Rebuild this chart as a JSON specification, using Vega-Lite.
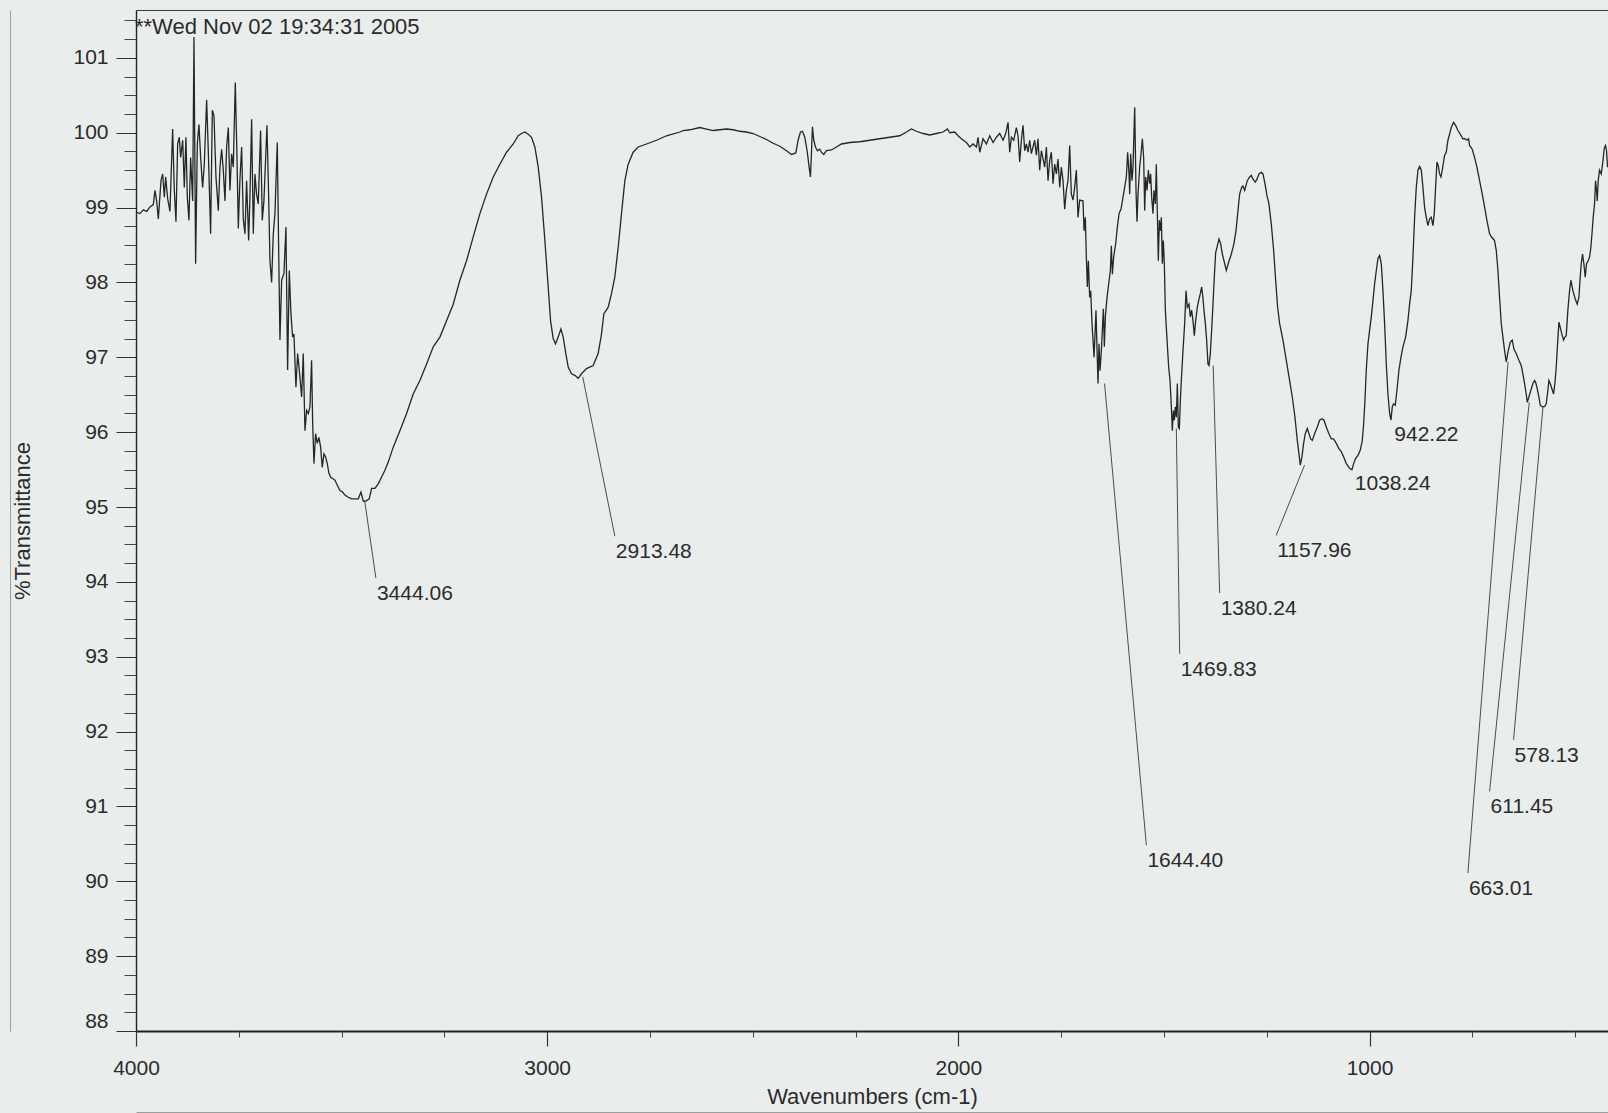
{
  "$schema": "https://vega.github.io/schema/vega-lite/v6.json",
  "width": 1472,
  "height": 1021,
  "autosize": {"type": "none"},
  "padding": {"left": 136, "top": 10, "right": 0, "bottom": 82},
  "background": "#e9eeed",
  "config": {"view": {"stroke": null}, "font": "Liberation Sans", "axis": {"grid": false}},
  "title": {"text": "**Wed Nov 02 19:34:31 2005", "anchor": "start", "frame": "group", "orient": "top", "offset": -22, "baseline": "alphabetic", "fontSize": 22, "fontWeight": "normal", "font": "Liberation Sans", "color": "#2b2b2b", "dx": -1, "dy": 24},
  "datasets": {
    "spec": [
      {"wn":4000.0,"t":98.94},{"wn":3990.3,"t":98.92},{"wn":3982.2,"t":98.97},{"wn":3974.1,"t":98.95},{"wn":3966.0,"t":99.01},{"wn":3957.9,"t":99.04},{"wn":3953.8,"t":99.23},{"wn":3949.8,"t":99.09},{"wn":3945.7,"t":98.85},{"wn":3939.2,"t":99.36},{"wn":3935.2,"t":99.45},{"wn":3931.1,"t":99.14},{"wn":3927.9,"t":99.41},{"wn":3923.0,"t":99.12},{"wn":3917.4,"t":98.95},{"wn":3910.9,"t":100.05},{"wn":3906.8,"t":99.23},{"wn":3902.8,"t":98.81},{"wn":3898.7,"t":99.85},{"wn":3894.7,"t":99.94},{"wn":3891.4,"t":99.67},{"wn":3886.5,"t":99.90},{"wn":3882.5,"t":99.27},{"wn":3878.5,"t":99.94},{"wn":3875.2,"t":99.14},{"wn":3871.2,"t":98.83},{"wn":3867.1,"t":99.67},{"wn":3862.2,"t":99.09},{"wn":3859.0,"t":101.28},{"wn":3855.0,"t":98.25},{"wn":3850.9,"t":99.85},{"wn":3846.9,"t":100.11},{"wn":3842.8,"t":99.67},{"wn":3838.0,"t":99.27},{"wn":3833.9,"t":99.58},{"wn":3828.2,"t":100.44},{"wn":3824.2,"t":99.76},{"wn":3818.5,"t":98.65},{"wn":3814.4,"t":100.30},{"wn":3810.4,"t":100.23},{"wn":3805.5,"t":99.41},{"wn":3799.8,"t":98.96},{"wn":3795.8,"t":99.54},{"wn":3791.7,"t":99.78},{"wn":3787.7,"t":99.50},{"wn":3783.6,"t":99.09},{"wn":3779.6,"t":99.81},{"wn":3775.5,"t":100.07},{"wn":3771.5,"t":99.23},{"wn":3767.4,"t":99.72},{"wn":3763.4,"t":99.54},{"wn":3758.5,"t":100.67},{"wn":3754.4,"t":99.67},{"wn":3751.2,"t":98.72},{"wn":3747.2,"t":99.38},{"wn":3743.1,"t":99.81},{"wn":3739.1,"t":98.85},{"wn":3735.0,"t":98.65},{"wn":3731.0,"t":99.36},{"wn":3726.1,"t":98.56},{"wn":3722.9,"t":99.14},{"wn":3718.8,"t":100.18},{"wn":3714.7,"t":98.65},{"wn":3710.7,"t":99.45},{"wn":3706.7,"t":99.18},{"wn":3702.6,"t":99.05},{"wn":3697.0,"t":100.03},{"wn":3692.9,"t":98.83},{"wn":3688.9,"t":99.09},{"wn":3684.8,"t":99.65},{"wn":3681.5,"t":100.10},{"wn":3677.5,"t":99.18},{"wn":3674.2,"t":98.29},{"wn":3670.2,"t":98.00},{"wn":3666.1,"t":98.65},{"wn":3662.1,"t":98.92},{"wn":3656.4,"t":99.87},{"wn":3653.1,"t":98.47},{"wn":3649.9,"t":97.23},{"wn":3645.8,"t":98.03},{"wn":3640.2,"t":98.12},{"wn":3635.3,"t":98.74},{"wn":3631.3,"t":96.83},
      {"wn":3627.2,"t":98.16},{"wn":3623.1,"t":97.58},{"wn":3619.1,"t":97.27},{"wn":3615.9,"t":97.31},{"wn":3611.0,"t":96.60},{"wn":3606.9,"t":97.05},{"wn":3602.9,"t":96.83},{"wn":3597.2,"t":96.47},{"wn":3593.2,"t":97.05},{"wn":3589.1,"t":96.02},{"wn":3585.0,"t":96.29},{"wn":3581.0,"t":96.25},{"wn":3576.9,"t":96.34},{"wn":3572.9,"t":96.96},{"wn":3570.5,"t":96.16},{"wn":3567.2,"t":95.58},{"wn":3563.2,"t":95.98},{"wn":3559.1,"t":95.85},{"wn":3555.1,"t":95.93},{"wn":3551.0,"t":95.80},{"wn":3547.0,"t":95.53},{"wn":3542.9,"t":95.71},{"wn":3538.9,"t":95.67},{"wn":3534.8,"t":95.58},{"wn":3530.8,"t":95.45},{"wn":3526.7,"t":95.40},{"wn":3521.9,"t":95.38},{"wn":3516.2,"t":95.36},{"wn":3510.5,"t":95.29},{"wn":3504.0,"t":95.22},{"wn":3497.5,"t":95.20},{"wn":3491.9,"t":95.16},{"wn":3483.8,"t":95.13},{"wn":3475.7,"t":95.11},{"wn":3467.5,"t":95.11},{"wn":3459.4,"t":95.11},{"wn":3453.0,"t":95.20},{"wn":3447.3,"t":95.08},{"wn":3440.8,"t":95.08},{"wn":3432.7,"t":95.11},{"wn":3427.0,"t":95.25},{"wn":3418.9,"t":95.25},{"wn":3410.8,"t":95.31},{"wn":3402.7,"t":95.40},{"wn":3394.6,"t":95.49},{"wn":3386.5,"t":95.60},{"wn":3374.4,"t":95.80},{"wn":3358.2,"t":96.02},{"wn":3341.9,"t":96.25},{"wn":3325.8,"t":96.51},{"wn":3309.5,"t":96.69},{"wn":3293.3,"t":96.91},{"wn":3277.1,"t":97.14},{"wn":3260.9,"t":97.27},{"wn":3244.7,"t":97.49},{"wn":3228.5,"t":97.71},{"wn":3212.3,"t":98.03},{"wn":3196.1,"t":98.29},{"wn":3179.9,"t":98.61},{"wn":3163.6,"t":98.92},{"wn":3147.5,"t":99.18},{"wn":3131.2,"t":99.41},{"wn":3115.0,"t":99.58},{"wn":3098.8,"t":99.74},{"wn":3082.6,"t":99.85},{"wn":3070.5,"t":99.96},{"wn":3062.4,"t":99.99},{"wn":3054.2,"t":100.01},{"wn":3046.1,"t":99.98},{"wn":3038.1,"t":99.94},{"wn":3029.9,"t":99.81},{"wn":3021.8,"t":99.54},{"wn":3013.7,"t":99.14},{"wn":3005.6,"t":98.56},{"wn":2997.5,"t":97.94},{"wn":2991.8,"t":97.49},{"wn":2985.4,"t":97.25},{"wn":2979.7,"t":97.18},{"wn":2973.2,"t":97.27},{"wn":2966.7,"t":97.38},{"wn":2961.0,"t":97.27},{"wn":2954.6,"t":97.05},{"wn":2948.9,"t":96.87},{"wn":2940.8,"t":96.78},{"wn":2932.7,"t":96.76},{"wn":2924.6,"t":96.72},{"wn":2916.5,"t":96.78},{"wn":2904.4,"t":96.85},{"wn":2888.2,"t":96.89},{"wn":2876.0,"t":97.05},{"wn":2867.9,"t":97.31},{"wn":2862.2,"t":97.58},{"wn":2851.6,"t":97.67},{"wn":2843.6,"t":97.85},{"wn":2835.5,"t":98.07},{"wn":2827.3,"t":98.47},{"wn":2819.2,"t":98.92},{"wn":2811.1,"t":99.36},{"wn":2803.0,"t":99.58},{"wn":2790.9,"t":99.74},{"wn":2778.7,"t":99.81},{"wn":2758.4,"t":99.85},{"wn":2734.1,"t":99.90},{"wn":2709.8,"t":99.96},{"wn":2677.4,"t":100.01},
      {"wn":2669.3,"t":100.03},{"wn":2653.1,"t":100.04},{"wn":2628.7,"t":100.07},{"wn":2612.5,"t":100.05},{"wn":2596.3,"t":100.03},{"wn":2580.1,"t":100.04},{"wn":2563.9,"t":100.05},{"wn":2547.7,"t":100.04},{"wn":2531.5,"t":100.02},{"wn":2515.3,"t":100.01},{"wn":2499.1,"t":99.99},{"wn":2482.9,"t":99.95},{"wn":2466.7,"t":99.91},{"wn":2450.5,"t":99.86},{"wn":2434.3,"t":99.82},{"wn":2418.0,"t":99.76},{"wn":2405.9,"t":99.71},{"wn":2395.3,"t":99.73},{"wn":2389.7,"t":99.90},{"wn":2384.0,"t":100.01},{"wn":2379.1,"t":100.02},{"wn":2373.5,"t":99.94},{"wn":2367.8,"t":99.76},{"wn":2362.9,"t":99.54},{"wn":2359.7,"t":99.41},{"wn":2357.3,"t":99.72},{"wn":2354.8,"t":100.08},{"wn":2351.6,"t":99.90},{"wn":2347.5,"t":99.81},{"wn":2342.7,"t":99.76},{"wn":2337.0,"t":99.78},{"wn":2333.0,"t":99.74},{"wn":2327.3,"t":99.71},{"wn":2320.8,"t":99.76},{"wn":2308.6,"t":99.77},{"wn":2296.5,"t":99.81},{"wn":2284.3,"t":99.85},{"wn":2264.1,"t":99.87},{"wn":2239.8,"t":99.88},{"wn":2215.4,"t":99.90},{"wn":2191.1,"t":99.92},{"wn":2166.8,"t":99.94},{"wn":2142.5,"t":99.96},{"wn":2126.3,"t":100.01},{"wn":2114.1,"t":100.05},{"wn":2102.0,"t":100.02},{"wn":2085.8,"t":99.99},{"wn":2069.6,"t":99.97},{"wn":2053.4,"t":99.99},{"wn":2037.2,"t":100.01},{"wn":2026.6,"t":100.05},{"wn":2021.0,"t":100.00},{"wn":2008.8,"t":100.01},{"wn":2000.7,"t":99.96},{"wn":1992.6,"t":99.92},{"wn":1980.4,"t":99.87},{"wn":1972.3,"t":99.81},{"wn":1964.2,"t":99.85},{"wn":1956.1,"t":99.81},{"wn":1952.1,"t":99.94},{"wn":1948.0,"t":99.74},{"wn":1939.9,"t":99.92},{"wn":1931.8,"t":99.85},{"wn":1923.7,"t":99.96},{"wn":1915.6,"t":99.87},{"wn":1907.5,"t":99.94},{"wn":1899.4,"t":99.99},{"wn":1891.3,"t":99.90},{"wn":1884.8,"t":99.99},{"wn":1879.1,"t":100.14},{"wn":1875.1,"t":99.74},{"wn":1871.0,"t":99.94},{"wn":1865.3,"t":99.90},{"wn":1858.9,"t":100.07},{"wn":1854.8,"t":99.96},{"wn":1850.8,"t":99.61},{"wn":1846.7,"t":99.90},{"wn":1842.7,"t":100.10},{"wn":1838.6,"t":99.76},{"wn":1834.6,"t":99.85},{"wn":1830.5,"t":99.74},{"wn":1826.5,"t":99.90},{"wn":1822.4,"t":99.72},{"wn":1818.4,"t":99.81},{"wn":1814.3,"t":99.90},{"wn":1810.3,"t":99.70},{"wn":1806.2,"t":99.92},{"wn":1802.2,"t":99.50},{"wn":1798.1,"t":99.76},{"wn":1794.0,"t":99.65},{"wn":1790.0,"t":99.54},{"wn":1785.9,"t":99.81},{"wn":1781.9,"t":99.36},{"wn":1777.8,"t":99.63},{"wn":1773.8,"t":99.74},{"wn":1769.7,"t":99.32},{"wn":1765.7,"t":99.58},{"wn":1761.6,"t":99.45},{"wn":1757.6,"t":99.65},{"wn":1753.5,"t":99.27},{"wn":1749.5,"t":99.54},{"wn":1745.4,"t":99.36},{"wn":1741.4,"t":98.98},{"wn":1737.3,"t":99.23},{"wn":1733.3,"t":99.36},{"wn":1729.2,"t":99.83},{"wn":1725.2,"t":99.18},{"wn":1721.1,"t":99.10},{"wn":1717.1,"t":99.27},{"wn":1713.0,"t":99.50},{"wn":1709.0,"t":98.87},{"wn":1704.9,"t":99.10},
      {"wn":1696.8,"t":99.09},{"wn":1694.3,"t":98.69},{"wn":1691.1,"t":98.87},{"wn":1688.7,"t":98.34},{"wn":1686.2,"t":97.94},{"wn":1683.8,"t":98.29},{"wn":1680.6,"t":97.80},{"wn":1678.1,"t":97.89},{"wn":1674.9,"t":97.45},{"wn":1672.4,"t":97.23},{"wn":1670.0,"t":97.00},{"wn":1667.6,"t":97.31},{"wn":1665.2,"t":97.63},{"wn":1662.7,"t":97.09},{"wn":1660.3,"t":96.65},{"wn":1657.9,"t":97.18},{"wn":1655.4,"t":96.82},{"wn":1652.2,"t":97.09},{"wn":1649.8,"t":97.36},{"wn":1647.3,"t":97.65},{"wn":1644.9,"t":97.14},{"wn":1642.5,"t":97.54},{"wn":1638.4,"t":97.80},{"wn":1634.4,"t":97.98},{"wn":1630.3,"t":98.16},{"wn":1627.9,"t":98.49},{"wn":1625.4,"t":98.11},{"wn":1622.2,"t":98.34},{"wn":1617.3,"t":98.52},{"wn":1613.3,"t":98.74},{"wn":1609.2,"t":98.92},{"wn":1604.4,"t":98.98},{"wn":1599.5,"t":99.14},{"wn":1595.5,"t":99.27},{"wn":1591.4,"t":99.41},{"wn":1588.2,"t":99.74},{"wn":1584.9,"t":99.45},{"wn":1583.3,"t":99.18},{"wn":1580.9,"t":99.72},{"wn":1577.6,"t":99.36},{"wn":1575.2,"t":99.54},{"wn":1571.1,"t":100.34},{"wn":1567.9,"t":99.23},{"wn":1565.5,"t":98.81},{"wn":1563.0,"t":99.18},{"wn":1559.0,"t":99.54},{"wn":1555.0,"t":99.76},{"wn":1552.5,"t":99.92},{"wn":1549.3,"t":99.67},{"wn":1546.8,"t":98.96},{"wn":1544.4,"t":99.41},{"wn":1541.2,"t":99.23},{"wn":1537.9,"t":99.50},{"wn":1534.7,"t":99.32},{"wn":1532.3,"t":99.45},{"wn":1529.8,"t":99.14},{"wn":1526.6,"t":98.92},{"wn":1524.2,"t":99.23},{"wn":1520.9,"t":99.05},{"wn":1518.5,"t":99.58},{"wn":1516.0,"t":98.92},{"wn":1513.6,"t":98.29},{"wn":1511.2,"t":98.83},{"wn":1508.8,"t":98.69},{"wn":1506.3,"t":98.87},{"wn":1503.9,"t":98.25},{"wn":1501.5,"t":98.56},{"wn":1499.0,"t":98.25},{"wn":1496.6,"t":97.63},{"wn":1494.2,"t":97.40},{"wn":1490.9,"t":97.09},{"wn":1488.5,"t":96.87},{"wn":1485.2,"t":96.69},{"wn":1482.0,"t":96.34},{"wn":1479.6,"t":96.02},{"wn":1477.1,"t":96.29},{"wn":1474.7,"t":96.16},{"wn":1472.3,"t":96.34},{"wn":1469.8,"t":96.20},{"wn":1467.4,"t":96.65},{"wn":1465.0,"t":96.07},{"wn":1462.5,"t":96.05},{"wn":1460.1,"t":96.42},{"wn":1457.7,"t":96.69},{"wn":1453.6,"t":97.09},{"wn":1449.6,"t":97.45},{"wn":1446.3,"t":97.89},{"wn":1443.1,"t":97.67},{"wn":1439.1,"t":97.71},{"wn":1435.8,"t":97.54},{"wn":1432.6,"t":97.63},{"wn":1429.3,"t":97.49},{"wn":1426.1,"t":97.29},{"wn":1422.8,"t":97.49},{"wn":1418.8,"t":97.67},{"wn":1414.7,"t":97.78},{"wn":1411.5,"t":97.85},{"wn":1408.3,"t":97.94},{"wn":1405.8,"t":97.83},{"wn":1402.6,"t":97.63},{"wn":1399.3,"t":97.45},{"wn":1396.1,"t":97.23},{"wn":1392.9,"t":96.91},{"wn":1390.4,"t":96.89},{"wn":1387.2,"t":97.05},{"wn":1384.0,"t":97.36},{"wn":1380.7,"t":97.71},{"wn":1377.5,"t":98.07},{"wn":1374.2,"t":98.40},{"wn":1371.0,"t":98.47},{"wn":1366.1,"t":98.58},{"wn":1362.1,"t":98.52},{"wn":1358.0,"t":98.38},{"wn":1354.0,"t":98.29},{"wn":1348.3,"t":98.16},{"wn":1342.6,"t":98.27},{"wn":1336.1,"t":98.38},{"wn":1329.7,"t":98.52},{"wn":1324.8,"t":98.69},{"wn":1319.9,"t":98.96},{"wn":1315.9,"t":99.18},{"wn":1311.0,"t":99.27},{"wn":1307.8,"t":99.29},{"wn":1303.7,"t":99.23},{"wn":1297.2,"t":99.36},{"wn":1291.6,"t":99.41},{"wn":1287.5,"t":99.43},{"wn":1283.5,"t":99.38},{"wn":1277.8,"t":99.34},{"wn":1273.7,"t":99.38},{"wn":1268.9,"t":99.45},{"wn":1263.2,"t":99.47},{"wn":1259.1,"t":99.45},{"wn":1254.3,"t":99.32},{"wn":1249.4,"t":99.16},{"wn":1244.6,"t":99.05},{"wn":1238.9,"t":98.78},{"wn":1233.2,"t":98.43},{"wn":1228.3,"t":98.03},{"wn":1223.5,"t":97.67},{"wn":1218.6,"t":97.45},{"wn":1210.5,"t":97.23},{"wn":1202.4,"t":96.96},{"wn":1194.3,"t":96.69},{"wn":1187.8,"t":96.47},{"wn":1181.3,"t":96.20},{"wn":1175.7,"t":95.89},{"wn":1171.6,"t":95.71},{"wn":1168.4,"t":95.56},{"wn":1164.3,"t":95.67},{"wn":1160.3,"t":95.85},{"wn":1156.2,"t":95.98},{"wn":1151.4,"t":96.05},{"wn":1147.3,"t":95.98},{"wn":1143.3,"t":95.91},{"wn":1139.2,"t":95.89},{"wn":1133.5,"t":95.98},{"wn":1127.0,"t":96.07},{"wn":1121.4,"t":96.16},{"wn":1115.7,"t":96.18},{"wn":1110.8,"t":96.16},{"wn":1105.2,"t":96.07},{"wn":1098.7,"t":95.98},{"wn":1093.0,"t":95.91},{"wn":1087.4,"t":95.91},{"wn":1080.9,"t":95.85},{"wn":1074.4,"t":95.78},{"wn":1068.7,"t":95.74},{"wn":1063.0,"t":95.67},{"wn":1056.5,"t":95.58},{"wn":1050.0,"t":95.53},
      {"wn":1046.8,"t":95.51},{"wn":1042.7,"t":95.50},{"wn":1038.7,"t":95.58},{"wn":1033.8,"t":95.65},{"wn":1028.1,"t":95.69},{"wn":1022.4,"t":95.76},{"wn":1017.6,"t":95.89},{"wn":1014.3,"t":96.11},{"wn":1011.1,"t":96.42},{"wn":1007.9,"t":96.83},{"wn":1003.8,"t":97.18},{"wn":999.8,"t":97.36},{"wn":995.7,"t":97.54},{"wn":991.6,"t":97.76},{"wn":987.6,"t":97.98},{"wn":983.5,"t":98.16},{"wn":979.5,"t":98.32},{"wn":975.4,"t":98.36},{"wn":971.4,"t":98.25},{"wn":967.3,"t":97.89},{"wn":963.3,"t":97.45},{"wn":959.2,"t":96.91},{"wn":955.2,"t":96.51},{"wn":951.1,"t":96.25},{"wn":947.9,"t":96.16},{"wn":944.6,"t":96.34},{"wn":941.4,"t":96.38},{"wn":937.4,"t":96.36},{"wn":933.3,"t":96.56},{"wn":928.4,"t":96.83},{"wn":923.6,"t":97.00},{"wn":918.7,"t":97.14},{"wn":912.2,"t":97.27},{"wn":906.6,"t":97.49},{"wn":902.5,"t":97.71},{"wn":898.5,"t":97.89},{"wn":894.4,"t":98.34},{"wn":890.3,"t":98.87},{"wn":886.3,"t":99.27},{"wn":882.2,"t":99.50},{"wn":878.2,"t":99.55},{"wn":874.1,"t":99.50},{"wn":870.1,"t":99.27},{"wn":866.0,"t":99.00},{"wn":862.0,"t":98.87},{"wn":857.9,"t":98.76},{"wn":853.9,"t":98.85},{"wn":849.8,"t":98.87},{"wn":845.8,"t":98.76},{"wn":842.5,"t":98.92},{"wn":839.3,"t":99.27},{"wn":836.0,"t":99.61},{"wn":832.8,"t":99.56},{"wn":829.6,"t":99.45},{"wn":826.3,"t":99.41},{"wn":823.1,"t":99.50},{"wn":817.4,"t":99.70},{"wn":813.4,"t":99.74},{"wn":809.3,"t":99.90},{"wn":805.3,"t":99.98},{"wn":801.2,"t":100.07},{"wn":795.5,"t":100.14},{"wn":790.7,"t":100.10},{"wn":785.0,"t":100.03},{"wn":779.3,"t":99.98},{"wn":772.8,"t":99.92},{"wn":768.0,"t":99.92},{"wn":763.1,"t":99.90},{"wn":759.1,"t":99.92},{"wn":756.6,"t":99.83},{"wn":750.2,"t":99.78},{"wn":744.5,"t":99.67},{"wn":738.8,"t":99.54},{"wn":732.3,"t":99.36},{"wn":725.8,"t":99.18},{"wn":720.2,"t":99.01},{"wn":714.5,"t":98.83},{"wn":708.0,"t":98.65},{"wn":702.3,"t":98.60},{"wn":695.9,"t":98.56},{"wn":691.8,"t":98.43},{"wn":687.7,"t":98.16},{"wn":683.7,"t":97.80},{"wn":679.6,"t":97.45},{"wn":675.6,"t":97.27},{"wn":671.5,"t":97.09},{"wn":667.5,"t":96.94},{"wn":662.6,"t":97.09},{"wn":657.8,"t":97.20},{"wn":652.9,"t":97.23},{"wn":648.8,"t":97.11},{"wn":643.2,"t":97.05},{"wn":636.7,"t":96.96},{"wn":631.0,"t":96.89},{"wn":627.0,"t":96.78},{"wn":622.9,"t":96.65},{"wn":618.9,"t":96.51},{"wn":616.4,"t":96.40},{"wn":612.4,"t":96.47},{"wn":607.5,"t":96.56},{"wn":602.6,"t":96.65},{"wn":598.6,"t":96.69},{"wn":596.2,"t":96.67},{"wn":592.9,"t":96.60},{"wn":588.1,"t":96.47},{"wn":584.8,"t":96.36},{"wn":579.9,"t":96.34},{"wn":574.3,"t":96.34},{"wn":570.2,"t":96.38},{"wn":566.2,"t":96.56},{"wn":563.8,"t":96.69},{"wn":560.5,"t":96.65},{"wn":556.5,"t":96.58},{"wn":552.4,"t":96.51},{"wn":549.2,"t":96.65},{"wn":545.9,"t":96.87},{"wn":542.7,"t":97.18},{"wn":539.4,"t":97.47},{"wn":536.2,"t":97.40},{"wn":532.2,"t":97.31},{"wn":528.1,"t":97.23},{"wn":524.9,"t":97.27},{"wn":521.6,"t":97.29},{"wn":517.6,"t":97.63},{"wn":513.5,"t":97.89},{"wn":510.3,"t":98.03},{"wn":505.4,"t":97.89},{"wn":499.7,"t":97.78},{"wn":494.9,"t":97.71},{"wn":490.8,"t":97.80},{"wn":487.6,"t":98.07},{"wn":485.1,"t":98.25},{"wn":481.9,"t":98.38},{"wn":478.7,"t":98.25},{"wn":475.4,"t":98.07},{"wn":472.2,"t":98.25},{"wn":468.1,"t":98.29},{"wn":464.9,"t":98.34},{"wn":461.6,"t":98.47},{"wn":458.4,"t":98.69},{"wn":456.0,"t":98.87},{"wn":452.7,"t":99.05},{"wn":450.3,"t":99.36},{"wn":447.9,"t":99.23},{"wn":446.2,"t":99.09},{"wn":443.8,"t":99.36},{"wn":440.6,"t":99.50},{"wn":436.5,"t":99.45},{"wn":432.5,"t":99.61},{"wn":429.2,"t":99.79},{"wn":426.0,"t":99.83},{"wn":423.6,"t":99.76},{"wn":421.1,"t":99.54}
    ],
    "peaks": [
      {"wn":3444.06,"t":95.09,"lwn":3416.5,"lt":94.05,"label":"3444.06"},
      {"wn":2913.48,"t":96.74,"lwn":2835.4,"lt":94.61,"label":"2913.48"},
      {"wn":1644.40,"t":96.65,"lwn":1542.7,"lt":90.48,"label":"1644.40"},
      {"wn":1469.83,"t":96.05,"lwn":1461.7,"lt":93.04,"label":"1469.83"},
      {"wn":1380.24,"t":96.89,"lwn":1364.5,"lt":93.85,"label":"1380.24"},
      {"wn":1157.96,"t":95.56,"lwn":1227.1,"lt":94.62,"label":"1157.96"},
      {"wn":1038.24,"t":95.52,"lwn":1038.24,"lt":95.52,"label":"1038.24"},
      {"wn":942.22,"t":96.18,"lwn":942.22,"lt":96.18,"label":"942.22"},
      {"wn":663.01,"t":96.94,"lwn":760.7,"lt":90.11,"label":"663.01"},
      {"wn":611.45,"t":96.40,"lwn":708.0,"lt":91.20,"label":"611.45"},
      {"wn":578.13,"t":96.34,"lwn":649.7,"lt":91.89,"label":"578.13"}
    ]
  },
  "resolve": {"axis": {"x": "independent", "y": "independent"}},
  "layer": [
    {
      "data": {"name": "spec"},
      "mark": {"type": "line", "color": "#262626", "strokeWidth": 1.3, "clip": true},
      "encoding": {
        "x": {"field": "wn", "type": "quantitative", "scale": {"domain": [420, 4000], "reverse": true, "nice": false, "zero": false},
          "axis": {"orient": "bottom", "values": [4000, 3000, 2000, 1000], "format": "d", "tickSize": 15, "tickWidth": 1.2, "tickColor": "#333333", "domainColor": "#222222", "domainWidth": 2, "labelFontSize": 21, "labelFont": "Liberation Sans", "labelColor": "#2b2b2b", "labelPadding": 11, "labelFlush": false, "labelOverlap": false, "title": "Wavenumbers (cm-1)", "titleFontSize": 22, "titleFont": "Liberation Sans", "titleFontWeight": "normal", "titleColor": "#2b2b2b", "titlePadding": 8, "grid": false}},
        "y": {"field": "t", "type": "quantitative", "scale": {"domain": [88, 101.64], "nice": false, "zero": false},
          "axis": {"orient": "left", "values": [88, 89, 90, 91, 92, 93, 94, 95, 96, 97, 98, 99, 100, 101], "format": "d", "tickSize": 20, "tickWidth": 1, "tickColor": "#333333", "domainColor": "#222222", "domainWidth": 1.4, "labelFontSize": 21, "labelFont": "Liberation Sans", "labelColor": "#2b2b2b", "labelPadding": 8, "labelFlush": true, "labelOverlap": false, "title": "%Transmittance", "titleFontSize": 22, "titleFont": "Liberation Sans", "titleFontWeight": "normal", "titleColor": "#2b2b2b", "titlePadding": 38, "grid": false}}
      }
    },
    {
      "data": {"name": "peaks"},
      "mark": {"type": "rule", "color": "#3a3a3a", "strokeWidth": 0.9},
      "encoding": {
        "x": {"field": "wn", "type": "quantitative", "scale": {"domain": [420, 4000], "reverse": true, "nice": false, "zero": false},
          "axis": {"orient": "bottom", "values": [3750, 3500, 3250, 2750, 2500, 2250, 1750, 1500, 1250, 750, 500], "tickSize": 6, "tickWidth": 1, "tickColor": "#444444", "labels": false, "domain": false, "title": null, "grid": false}},
        "y": {"field": "t", "type": "quantitative", "scale": {"domain": [88, 101.64], "nice": false, "zero": false},
          "axis": {"orient": "left", "values": [88.25, 88.5, 88.75, 89.25, 89.5, 89.75, 90.25, 90.5, 90.75, 91.25, 91.5, 91.75, 92.25, 92.5, 92.75, 93.25, 93.5, 93.75, 94.25, 94.5, 94.75, 95.25, 95.5, 95.75, 96.25, 96.5, 96.75, 97.25, 97.5, 97.75, 98.25, 98.5, 98.75, 99.25, 99.5, 99.75, 100.25, 100.5, 100.75, 101.25, 101.5], "tickSize": 12, "tickWidth": 1, "tickColor": "#444444", "labels": false, "domain": false, "title": null, "grid": false}},
        "x2": {"field": "lwn"},
        "y2": {"field": "lt"}
      }
    },
    {
      "data": {"name": "peaks"},
      "mark": {"type": "text", "align": "left", "baseline": "top", "dx": 1, "dy": 5, "fontSize": 21, "font": "Liberation Sans", "color": "#2b2b2b"},
      "encoding": {
        "x": {"field": "lwn", "type": "quantitative", "scale": {"domain": [420, 4000], "reverse": true, "nice": false, "zero": false},
          "axis": {"orient": "top", "ticks": false, "labels": false, "title": null, "domainColor": "#3a3a3a", "domainWidth": 1.2, "grid": false}},
        "y": {"field": "lt", "type": "quantitative", "scale": {"domain": [88, 101.64], "nice": false, "zero": false},
          "axis": {"orient": "left", "offset": 126, "ticks": false, "labels": false, "title": null, "domainColor": "#9a9e9e", "domainWidth": 1, "grid": false}},
        "text": {"field": "label", "type": "nominal"}
      }
    },
    {
      "data": {"name": "peaks"},
      "mark": {"type": "point", "opacity": 0},
      "encoding": {
        "x": {"field": "wn", "type": "quantitative", "scale": {"domain": [420, 4000], "reverse": true, "nice": false, "zero": false},
          "axis": {"orient": "bottom", "offset": 81, "ticks": false, "labels": false, "title": null, "domainColor": "#9a9e9e", "domainWidth": 1, "grid": false}},
        "y": {"field": "t", "type": "quantitative", "scale": {"domain": [88, 101.64], "nice": false, "zero": false}, "axis": null}
      }
    }
  ]
}
